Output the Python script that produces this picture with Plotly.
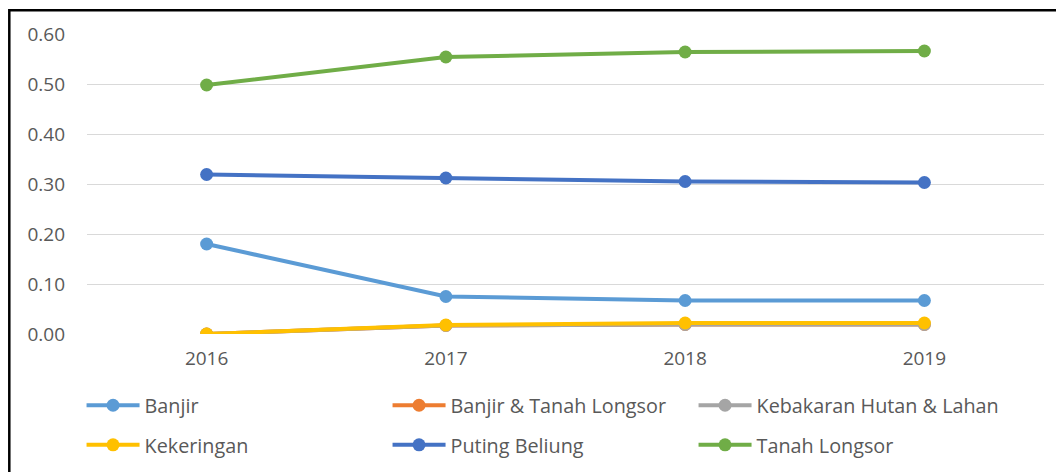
import plotly.graph_objects as go

years = ["2016", "2017", "2018", "2019"]
banjir = [0.18, 0.075, 0.067, 0.067]
banjir_tanah_longsor = [0.0, 0.017, 0.019, 0.019]
kebakaran = [0.0, 0.017, 0.019, 0.019]
kekeringan = [0.0, 0.018, 0.022, 0.022]
puting_beliung = [0.319, 0.312, 0.305, 0.303]
tanah_longsor = [0.498, 0.554, 0.564, 0.566]

series = [
    ("Banjir", banjir, "#5B9BD5", "legend"),
    ("Banjir & Tanah Longsor", banjir_tanah_longsor, "#ED7D31", "legend"),
    ("Kebakaran Hutan & Lahan", kebakaran, "#A5A5A5", "legend"),
    ("Kekeringan", kekeringan, "#FFC000", "legend2"),
    ("Puting Beliung", puting_beliung, "#4472C4", "legend2"),
    ("Tanah Longsor", tanah_longsor, "#70AD47", "legend2"),
]

FONT = "Open Sans"
TXT = "#595959"

fig = go.Figure()
for name, vals, color, lg in series:
    fig.add_trace(go.Scatter(
        x=years, y=vals, name=name, mode="lines+markers",
        line=dict(color=color, width=4),
        marker=dict(color=color, size=13),
        legend=lg,
    ))

legend_common = dict(
    orientation="h", xanchor="left", yanchor="middle",
    x=-0.0057, entrywidth=238, entrywidthmode="pixels",
    itemwidth=53, font=dict(family=FONT, size=19.8, color=TXT),
    bgcolor="rgba(0,0,0,0)", tracegroupgap=0, traceorder="normal",
)

L, T = 79, 26
W, H = 957, 300

fig.update_layout(
    width=1064, height=472,
    margin=dict(l=L, r=1064 - L - W, t=T, b=472 - T - H, autoexpand=False),
    paper_bgcolor="white", plot_bgcolor="white",
    font=dict(family=FONT, size=19, color=TXT),
    legend=dict(y=-0.238, **legend_common),
    legend2=dict(y=-0.37, **legend_common),
    xaxis=dict(type="category", range=[-0.5, 3.5], showgrid=False,
               showline=False, zeroline=False, ticks="",
               ticklabelstandoff=11,
               tickfont=dict(family=FONT, size=19, color=TXT)),
    yaxis=dict(range=[0, 0.6], tickvals=[0, 0.1, 0.2, 0.3, 0.4, 0.5, 0.6],
               tickformat=".2f", showgrid=True, gridcolor="#D9D9D9",
               gridwidth=1, zeroline=False, showline=False, ticks="",
               ticklabelstandoff=21,
               tickfont=dict(family=FONT, size=19, color=TXT)),
    shapes=[dict(type="rect", xref="paper", yref="paper",
                 x0=(1.3 - L) / W, x1=(1070 - L) / W,
                 y0=(T + H - 480) / H, y1=(T + H - 2.3) / H,
                 line=dict(color="black", width=2.5),
                 fillcolor="rgba(0,0,0,0)", layer="above")],
)

fig.write_html("out.html")
